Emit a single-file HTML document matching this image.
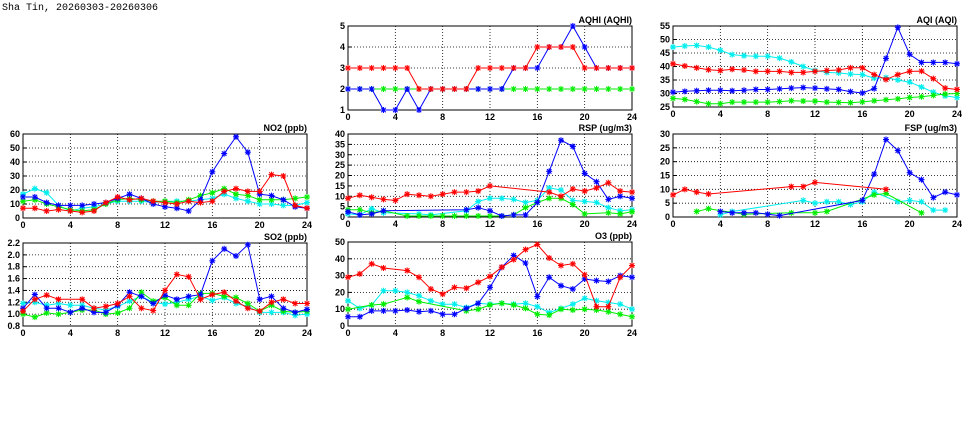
<!DOCTYPE html>
<html><head><meta charset="utf-8"><style>
html,body{margin:0;padding:0;background:#fff;}
svg{display:block;}
text{font-family:"Liberation Sans",sans-serif;font-weight:bold;font-size:9px;fill:#000;}
.ttl{font-family:"Liberation Mono",monospace;font-weight:normal;font-size:10px;}
</style></head><body>
<svg id="c" width="975" height="447" viewBox="0 0 975 447" xmlns="http://www.w3.org/2000/svg">
<text class="ttl" x="2" y="10">Sha Tin, 20260303-20260306</text>
</svg>
<script>
const hours=[0,1,2,3,4,5,6,7,8,9,10,11,12,13,14,15,16,17,18,19,20,21,22,23,24];
const xTicks=[0,4,8,12,16,20,24];
const seriesColors=['#0000ff','#ff0000','#00ee00','#00eeee'];
const N=null;
// NO2
const no2Blue=[15,15,11,9,9,9,10,11,14,17,14,10,8,7,5,13,33,46,58,47,17,16,13,8,7];
const no2Red=[7,7,5,6,5,4,5,11,15,13,14,12,11,10,12,11,12,19,21,19,19,31,30,9,7];
const no2Green=[12,13,10,8,6,5,6,10,13,14,13,12,12,11,13,16,18,21,17,16,13,13,13,14,15];
const no2Cyan=[17,21,18,9,5,7,8,10,12,12,12,11,12,12,12,13,14,17,14,12,10,10,9,9,11];
const no2Ticks=[0,10,20,30,40,50,60];
// SO2
const so2Blue=[1.10,1.33,1.10,1.10,1.03,1.10,1.03,1.03,1.15,1.37,1.30,1.18,1.32,1.25,1.30,1.33,1.90,2.10,1.98,2.17,1.25,1.30,1.10,1.03,1.08];
const so2Red=[1.05,1.25,1.32,1.25,N,1.25,1.10,1.13,1.18,1.30,1.10,1.06,1.40,1.67,1.63,1.25,1.33,1.37,1.22,1.10,1.05,1.20,1.25,1.18,1.18];
const so2Green=[1.00,0.95,1.02,1.00,1.03,1.07,1.07,1.00,1.02,1.10,1.37,1.22,1.28,1.15,1.15,1.35,1.35,1.30,1.28,1.18,1.05,1.15,1.05,1.03,1.05];
const so2Cyan=[1.18,1.20,1.15,1.18,1.15,1.15,1.10,1.07,1.13,1.22,1.30,1.20,1.17,1.20,1.25,1.30,1.23,1.28,1.18,1.13,1.03,1.03,1.03,0.98,1.00];
const so2Ticks=[0.8,1.0,1.2,1.4,1.6,1.8,2.0,2.2];
// AQHI
const aqhiBlue=[2,2,2,1,1,2,1,2,2,2,2,2,2,2,3,3,3,4,4,5,4,3,3,3,3];
const aqhiRed=[3,3,3,3,3,3,2,2,2,2,2,3,3,3,3,3,4,4,4,4,3,3,3,3,3];
const aqhiGreen=[2,2,2,2,2,2,2,2,2,2,2,2,2,2,2,2,2,2,2,2,2,2,2,2,2];
const aqhiCyan=[N,N,N,N,N,N,N,N,N,N,N,N,N,N,N,N,N,N,N,N,N,N,N,N,N];
const aqhiTicks=[1,2,3,4,5];
// RSP
const rspBlue=[2.5,1,1.5,3,N,N,N,N,N,N,3.5,4.5,3,0.5,1,1,7,22,37,34,21,17,8.5,10,9];
const rspRed=[9,10.5,9.5,8.5,8,11,10.5,10,11,12,12,12.5,15,N,N,N,N,12,10,13.5,12.5,14,16.5,12.5,12];
const rspGreen=[3.5,3.5,2,3,N,0.5,0.5,0.5,0.5,0.5,0.5,0.5,0.5,0.5,1,4.5,7,9,9,6,1.5,N,2,1.5,2.5];
const rspCyan=[1.5,1,4,2,N,N,1.5,1,N,N,3,7.5,9,9,8.5,7,8,14,13,8,7.5,7,4.5,3,3.5];
const rspTicks=[0,5,10,15,20,25,30,35,40];
// O3
const o3Blue=[5.5,5.5,9,9,9,9.5,8.5,9,7,7,10.5,13.5,23,35,42,37.5,17.5,29,24,22,28,27,26.5,30,29];
const o3Red=[29,31,37,34.5,N,33,29,22,19,23,22.5,26,29.5,35,39.5,45.5,48.5,40.5,36,37,30.5,11.5,11.5,29,36];
const o3Green=[10,N,12.5,13,N,17,14.5,N,N,N,9,10,12.5,13.5,12.5,10.5,7,6.5,10,9.5,10,9.5,8.5,7,5.5];
const o3Cyan=[15,10.5,12.5,21,21,20,18,15,13,13,11,13.5,13,13.5,13,13.5,11.5,8,10.5,13,16.5,15,14,13,10];
const o3Ticks=[0,10,20,30,40,50];
// AQI
const aqiBlue=[30.5,30.8,31,31.2,31.2,31,31.2,31.5,31.5,31.7,32,32.2,32,31.7,31.5,30.7,30.2,31.8,43,54.5,44.5,41.5,41.5,41.5,41];
const aqiRed=[41,40.2,39.5,38.8,38.5,39,38.7,38.2,38.2,38.2,37.8,37.8,38.2,38.5,38.7,39.5,39.5,37,35.2,37,38.2,38.3,35.5,32,31.5];
const aqiGreen=[28.2,27.8,27,26.2,26.2,26.8,26.8,26.8,26.8,27,27.3,27.2,27.2,26.8,26.7,26.6,26.9,27.3,27.7,28,28.5,28.8,29.3,29.8,30];
const aqiCyan=[47.2,47.6,47.8,47.2,46,44.4,44,43.8,43.8,43.1,41.7,40,38.5,37.8,37.6,37.2,37,35.7,35.9,35,34.2,32.4,30.5,29.1,28.5];
const aqiTicks=[25,30,35,40,45,50,55];
// FSP
const fspBlue=[N,N,N,N,2,1.5,1.5,1.5,1,0.5,N,N,N,N,N,N,6,15.5,28,24,16,13.5,7,9,8];
const fspRed=[8,10,9,8.3,N,N,N,N,N,N,11,11,12.5,N,N,N,N,N,10,N,N,N,N,N,N];
const fspGreen=[N,N,2,3,N,N,1,N,N,N,1.5,N,1.5,2,N,N,N,8,8.5,N,N,1.5,N,N,N];
const fspCyan=[N,N,N,N,0.8,2,N,N,N,N,N,6,5,5.5,5.5,4.5,5.5,9,N,5.5,6,5.5,2.5,2.5,N];
const fspTicks=[0,5,10,15,20,25,30];

const panels=[
 {name:'no2',title:'NO2 (ppb)',x0:23,x1:307,y0:134,y1:218,ticks:no2Ticks,dec:0,series:[no2Blue,no2Red,no2Green,no2Cyan]},
 {name:'so2',title:'SO2 (ppb)',x0:23,x1:307,y0:243,y1:326,ticks:so2Ticks,dec:1,series:[so2Blue,so2Red,so2Green,so2Cyan]},
 {name:'aqhi',title:'AQHI (AQHI)',x0:348,x1:632,y0:26,y1:110,ticks:aqhiTicks,dec:0,series:[aqhiBlue,aqhiRed,aqhiGreen,aqhiCyan]},
 {name:'rsp',title:'RSP (ug/m3)',x0:348,x1:632,y0:134,y1:217,ticks:rspTicks,dec:0,series:[rspBlue,rspRed,rspGreen,rspCyan]},
 {name:'o3',title:'O3 (ppb)',x0:348,x1:632,y0:242,y1:326,ticks:o3Ticks,dec:0,series:[o3Blue,o3Red,o3Green,o3Cyan]},
 {name:'aqi',title:'AQI (AQI)',x0:673,x1:957,y0:26,y1:107,ticks:aqiTicks,dec:0,series:[aqiBlue,aqiRed,aqiGreen,aqiCyan]},
 {name:'fsp',title:'FSP (ug/m3)',x0:673,x1:957,y0:134,y1:217,ticks:fspTicks,dec:0,series:[fspBlue,fspRed,fspGreen,fspCyan]}
];
const NS='http://www.w3.org/2000/svg';
const svg=document.getElementById('c');
function mk(tag,attrs,parent){const e=document.createElementNS(NS,tag);for(const k in attrs)e.setAttribute(k,attrs[k]);(parent||svg).appendChild(e);return e;}
const colorNames=['blue','red','green','cyan'];
panels.forEach(p=>{
 const g=mk('g',{});
 
 
 const ymin=p.ticks[0],ymax=p.ticks[p.ticks.length-1];
 const sx=v=>p.x0+(v-0)/(24-0)*(p.x1-p.x0);
 const sy=v=>p.y1-(v-ymin)/(ymax-ymin)*(p.y1-p.y0);
 // grid
 p.ticks.forEach((t,i)=>{
  const y=sy(t);
  if(i>0&&i<p.ticks.length-1){const l=mk('line',{x1:p.x0,x2:p.x1,y1:y,y2:y,stroke:'#000','stroke-width':0.8,'stroke-dasharray':'1,2'},g);
   }
  const tk=mk('line',{x1:p.x0,x2:p.x0+4,y1:y,y2:y,stroke:'#000'},g);
  const tx=mk('text',{x:p.x0-3,y:y+3,'text-anchor':'end'},g);
  tx.textContent=t.toFixed(p.dec);
  
 });
 xTicks.forEach((t,i)=>{
  const x=sx(t);
  if(i>0&&i<xTicks.length-1){const l=mk('line',{x1:x,x2:x,y1:p.y0,y2:p.y1,stroke:'#000','stroke-width':0.8,'stroke-dasharray':'1,2'},g);
   }
  const tx=mk('text',{x:x,y:p.y1+10,'text-anchor':'middle'},g);
  tx.textContent=t;
  
 });
 const fr=mk('rect',{x:p.x0,y:p.y0,width:p.x1-p.x0,height:p.y1-p.y0,fill:'none',stroke:'#000','stroke-width':1},g);
 
 const tt=mk('text',{x:p.x1,y:p.y0-3,'text-anchor':'end'},g);
 tt.textContent=p.title;
 
 // series drawn cyan first, blue last? order: cyan, green, blue, red top-ish
 [3,2,0,1].forEach(si=>{
  const vals=p.series[si],col=seriesColors[si];
  const pts=[];
  vals.forEach((v,i)=>{if(v!==null)pts.push([sx(hours[i]),sy(v)]);});
  if(!pts.length)return;
  const sg=mk('g',{},g);
  
  
  mk('polyline',{points:pts.map(q=>q[0].toFixed(1)+','+q[1].toFixed(1)).join(' '),fill:'none',stroke:col,'stroke-width':1},sg);
  pts.forEach(q=>{
   const [x,y]=q,r=3;
   const m=mk('path',{d:`M${x-r},${y}H${x+r}M${x},${y-r}V${y+r}M${x-r*0.75},${y-r*0.75}L${x+r*0.75},${y+r*0.75}M${x-r*0.75},${y+r*0.75}L${x+r*0.75},${y-r*0.75}`,stroke:col,'stroke-width':1.1,fill:'none'},sg);
   
   
  });
 });
});
</script>
</body></html>
